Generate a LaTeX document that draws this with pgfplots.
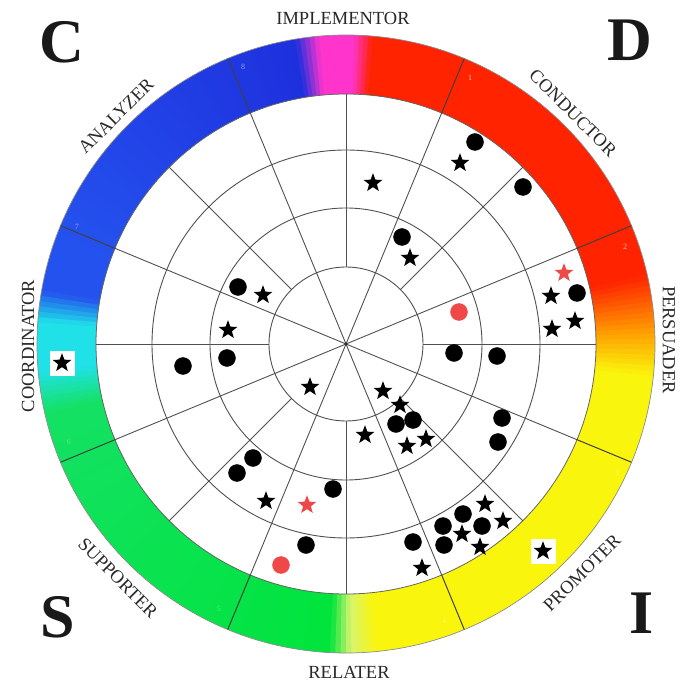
\documentclass[border=0pt]{standalone}
\usepackage{pgfplots}
\pgfplotsset{compat=1.18}
\usepackage{fontspec}
\setmainfont{Liberation Serif}

\definecolor{ringB}{RGB}{30,48,222}
\definecolor{ringB2}{RGB}{36,82,238}
\definecolor{ringM}{RGB}{255,52,205}
\definecolor{ringR}{RGB}{255,35,0}
\definecolor{ringO}{RGB}{255,150,0}
\definecolor{ringY}{RGB}{250,245,12}
\definecolor{ringPY}{RGB}{215,245,110}
\definecolor{ringG}{RGB}{0,228,60}
\definecolor{ringGL}{RGB}{20,225,100}
\definecolor{ringC}{RGB}{32,225,232}
\definecolor{gridc}{RGB}{80,80,80}
\definecolor{redm}{RGB}{238,72,72}
\definecolor{labc}{RGB}{40,40,40}

\pgfdeclareplotmark{fstar}{%
  \pgfpathmoveto{\pgfpointpolar{90}{\pgfplotmarksize}}%
  \pgfpathlineto{\pgfpointpolar{126}{0.42\pgfplotmarksize}}%
  \pgfpathlineto{\pgfpointpolar{162}{\pgfplotmarksize}}%
  \pgfpathlineto{\pgfpointpolar{198}{0.42\pgfplotmarksize}}%
  \pgfpathlineto{\pgfpointpolar{234}{\pgfplotmarksize}}%
  \pgfpathlineto{\pgfpointpolar{270}{0.42\pgfplotmarksize}}%
  \pgfpathlineto{\pgfpointpolar{306}{\pgfplotmarksize}}%
  \pgfpathlineto{\pgfpointpolar{342}{0.42\pgfplotmarksize}}%
  \pgfpathlineto{\pgfpointpolar{18}{\pgfplotmarksize}}%
  \pgfpathlineto{\pgfpointpolar{54}{0.42\pgfplotmarksize}}%
  \pgfpathclose
  \pgfusepathqfill
}

% annular sector gradient from angle #1 to #2, colour #3 to #4
\newcommand{\ringseg}[4]{%
  \pgfmathtruncatemacro{\nn}{max(1,round(abs(#2-#1)))}%
  \foreach \i in {1,...,\nn} {%
    \pgfmathsetmacro{\aa}{#1+(#2-#1)*(\i-1)/\nn}%
    \pgfmathsetmacro{\bb}{#1+(#2-#1)*\i/\nn+0.4}%
    \pgfmathtruncatemacro{\pp}{round(100*(\i-0.5)/\nn)}%
    \fill[#4!\pp!#3] (\aa:250pt) -- (\aa:309pt) arc[start angle=\aa, end angle=\bb, radius=309pt] -- (\bb:250pt) arc[start angle=\bb, end angle=\aa, radius=250pt] -- cycle;
  }%
}

\begin{document}
\begin{tikzpicture}
\useasboundingbox (-346pt,-346pt) rectangle (333pt,344pt);
% colour ring
\ringseg{-180}{-175}{ringC}{ringC}
\ringseg{-175}{-167}{ringC}{ringGL}
\ringseg{-167}{-93}{ringGL}{ringG}
\ringseg{-93}{-89}{ringG}{ringPY}
\ringseg{-89}{-84}{ringPY}{ringY}
\ringseg{-84}{-6}{ringY}{ringY}
\ringseg{-6}{3}{ringY}{ringO}
\ringseg{3}{13}{ringO}{ringR}
\ringseg{13}{85}{ringR}{ringR}
\ringseg{85}{88.5}{ringR}{ringM}
\ringseg{88.5}{95}{ringM}{ringM}
\ringseg{95}{99.5}{ringM}{ringB}
\ringseg{99.5}{160}{ringB}{ringB2}
\ringseg{160}{170}{ringB2}{ringB2}
\ringseg{170}{176}{ringB2}{ringC}
\ringseg{176}{180}{ringC}{ringC}
\draw[black!45, line width=0.7pt] (0,0) circle[radius=309pt];
\draw[black!60, line width=0.8pt] (0,0) circle[radius=250pt];
\foreach \a in {22.5,67.5,...,337.5} \draw[black!75, line width=1pt] (\a:250pt) -- (\a:309pt);
% inner grid
\foreach \r in {77,136,194} \draw[gridc, line width=0.9pt] (0,0) circle[radius=\r pt];
\foreach \a in {22.5,67.5,...,337.5} \draw[gridc, line width=0.9pt] (0,0) -- (\a:250pt);
\foreach \a in {0,45,...,315} \draw[gridc, line width=0.9pt] (\a:77pt) -- (\a:250pt);
\fill[black!80] (0,0) circle[radius=1.5pt];

\begin{axis}[at={(0,0)}, anchor=origin, x=1pt, y=1pt,
  xmin=-346, xmax=333, ymin=-346, ymax=344, hide axis, clip=false]
% black circles
\addplot[only marks, mark=*, mark size=8.5pt, black] coordinates {
(129,202) (177,157) (56,107) (231,51) (-108,57) (-119,-14) (-163,-22)
(108,-9) (151,-12) (50,-80) (67,-76) (156,-74) (152,-98) (-93,-114)
(-109,-129) (-13,-145) (-40,-201) (117,-170) (97,-182) (136,-182)
(98,-201) (67,-198)};
% red circles
\addplot[only marks, mark=*, mark size=8.5pt, redm] coordinates {(113,32) (-65,-221)};
% white boxes behind two stars
\addplot[only marks, mark=square*, mark size=12pt, white, mark options={draw=white, fill=white}] coordinates {(-284,-19) (197,-207)};
% black stars
\addplot[only marks, mark=fstar, mark size=9.8pt, black] coordinates {
(114,181) (27,161) (64,86) (205,48) (229,23) (206,15) (-83,49) (-118,14)
(-36,-43) (37,-47) (54,-61) (19,-91) (61,-102) (80,-95) (-80,-157)
(139,-160) (157,-177) (116,-190) (134,-203) (76,-224) (-284,-19) (197,-207)};
% red stars
\addplot[only marks, mark=fstar, mark size=9.8pt, redm] coordinates {(-39,-161) (218,71)};

% segment labels
\begin{scope}[every node/.style={text=labc, inner sep=1pt, font=\fontsize{18.5}{20}\selectfont}]
\node at (axis cs:-3,326) {IMPLEMENTOR};
\node[rotate=-45] at (axis cs:227,231) {CONDUCTOR};
\node[rotate=-90] at (axis cs:323,4) {PERSUADER};
\node[rotate=45] at (axis cs:236,-229) {PROMOTER};
\node at (axis cs:3,-328) {RELATER};
\node[rotate=-45] at (axis cs:-228,-234) {SUPPORTER};
\node[rotate=90] at (axis cs:-318,-2) {COORDINATOR};
\node[rotate=45] at (axis cs:-230,228) {ANALYZER};
\end{scope}
% quadrant letters
\begin{scope}[every node/.style={text=black!90, inner sep=0pt, font=\fontsize{62}{62}\selectfont\bfseries}]
\node at (axis cs:-284,302) {C};
\node at (axis cs:284,304) {D};
\node at (axis cs:-288,-273) {S};
\node at (axis cs:296,-269) {I};
\end{scope}
% ring numbers
\begin{scope}[every node/.style={inner sep=0pt, font=\fontsize{8}{8}\selectfont}]
\node[text=white!75!ringR] at (axis cs:124,266) {1};
\node[text=white!75!ringR] at (axis cs:279,97) {2};
\node[text=white!35!ringY] at (axis cs:271,-129) {3};
\node[text=white!35!ringY] at (axis cs:98,-277) {4};
\node[text=white!35!ringG] at (axis cs:-127,-265) {5};
\node[text=white!35!ringG] at (axis cs:-277,-98) {6};
\node[text=white!55!ringB] at (axis cs:-269,117) {7};
\node[text=white!55!ringB] at (axis cs:-103,277) {8};
\end{scope}
\end{axis}
\end{tikzpicture}
\end{document}
